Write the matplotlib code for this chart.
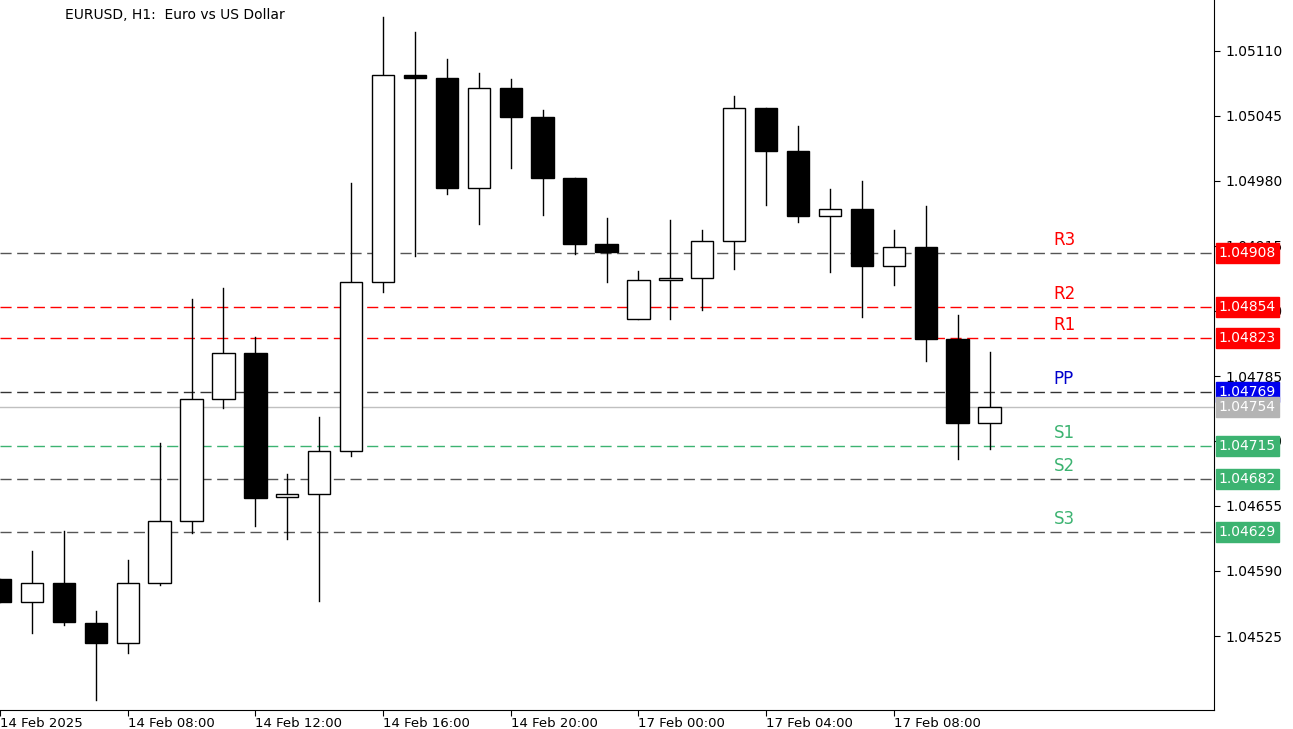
import matplotlib
matplotlib.use("Agg")
import matplotlib.pyplot as plt
from matplotlib.patches import Rectangle

opens  = [1.04582,1.04559,1.04578,1.04538,1.04518,1.04578,1.04640,1.04762,1.04808,1.04664,1.04667,1.04710,1.04879,1.05086,1.05083,1.04973,1.05073,1.05044,1.04983,1.04917,1.04842,1.04881,1.04883,1.04920,1.05053,1.05010,1.04945,1.04952,1.04895,1.04914,1.04822,1.04738]
highs  = [1.04582,1.04610,1.04630,1.04550,1.04601,1.04718,1.04862,1.04873,1.04824,1.04687,1.04744,1.04978,1.05144,1.05129,1.05102,1.05088,1.05082,1.05051,1.04983,1.04943,1.04890,1.04941,1.04931,1.05065,1.05053,1.05035,1.04972,1.04980,1.04931,1.04955,1.04846,1.04809]
lows   = [1.04559,1.04528,1.04536,1.04461,1.04508,1.04576,1.04628,1.04753,1.04635,1.04622,1.04560,1.04705,1.04869,1.04905,1.04967,1.04937,1.04993,1.04946,1.04907,1.04879,1.04842,1.04842,1.04851,1.04892,1.04956,1.04939,1.04889,1.04844,1.04876,1.04800,1.04702,1.04712]
closes = [1.04559,1.04578,1.04539,1.04518,1.04578,1.04640,1.04762,1.04808,1.04663,1.04667,1.04710,1.04879,1.05086,1.05083,1.04973,1.05073,1.05044,1.04983,1.04917,1.04909,1.04881,1.04883,1.04920,1.05053,1.05010,1.04945,1.04952,1.04895,1.04914,1.04822,1.04738,1.04754]

x_labels = ["14 Feb 2025","14 Feb 08:00","14 Feb 12:00","14 Feb 16:00","14 Feb 20:00","17 Feb 00:00","17 Feb 04:00","17 Feb 08:00"]
x_label_idx = [0,4,8,12,16,20,24,28]
y_ticks = [1.05110,1.05045,1.04980,1.04915,1.04850,1.04785,1.04720,1.04655,1.04590,1.04525]

level_names = ["R3","R2","R1","PP","S1","S2","S3"]
level_vals = [1.04908,1.04854,1.04823,1.04769,1.04715,1.04682,1.04629]
level_line_colors = ["#555555","red","red","#333333","#3cb371","#555555","#555555"]
level_text_colors = ["red","red","red","#0000cc","#3cb371","#3cb371","#3cb371"]
level_box_colors = ["red","red","red","#0000ee","#3cb371","#3cb371","#3cb371"]
current = 1.04754

fig = plt.figure(figsize=(12.93,7.29), dpi=100)
ax = fig.add_axes([0, 1-710/729, 1214/1293, 710/729])
ax.set_xlim(3/32, 1217/32)
ax.set_ylim(1.04451, 1.05161)

w = 0.7
for i,(o,h,l,c) in enumerate(zip(opens,highs,lows,closes)):
    ax.plot([i,i],[l,h],color="black",lw=1,zorder=2)
    lo, hi = min(o,c), max(o,c)
    hgt = max(hi-lo, 0.000015)
    fc = "white" if c>=o else "black"
    ax.add_patch(Rectangle((i-w/2,lo),w,hgt,facecolor=fc,edgecolor="black",lw=1,zorder=3))

for n,v,lc,tc,bc in zip(level_names,level_vals,level_line_colors,level_text_colors,level_box_colors):
    ax.axhline(v,color=lc,lw=1,ls=(0,(8,4)),zorder=1)
    ax.text(33.0, v+0.00004, n, color=tc, fontsize=12, va="bottom", ha="left")
    ax.text(1.004, v, f"{v:.5f}", transform=ax.get_yaxis_transform(), color="white", fontsize=10,
            va="center", ha="left", bbox=dict(boxstyle="square,pad=0.2", fc=bc, ec=bc), zorder=10)
ax.axhline(current,color="#c0c0c0",lw=1,zorder=1)
ax.text(1.004, current, f"{current:.5f}", transform=ax.get_yaxis_transform(), color="white", fontsize=10,
        va="center", ha="left", bbox=dict(boxstyle="square,pad=0.2", fc="#b4b4b4", ec="#b4b4b4"), zorder=10)

ax.yaxis.tick_right()
ax.set_yticks(y_ticks)
ax.set_yticklabels([f"{t:.5f}" for t in y_ticks], fontsize=10)
ax.set_xticks(x_label_idx)
ax.set_xticklabels(x_labels, fontsize=9.5, ha="left")
ax.tick_params(axis="x", length=4, pad=1)
ax.tick_params(axis="y", length=4, pad=4)
for s in ["top","left"]:
    ax.spines[s].set_visible(False)

fig.text(0.05, 0.98, "EURUSD, H1:  Euro vs US Dollar", fontsize=10, va="center", ha="left")
fig.savefig("out.png", dpi=100)
